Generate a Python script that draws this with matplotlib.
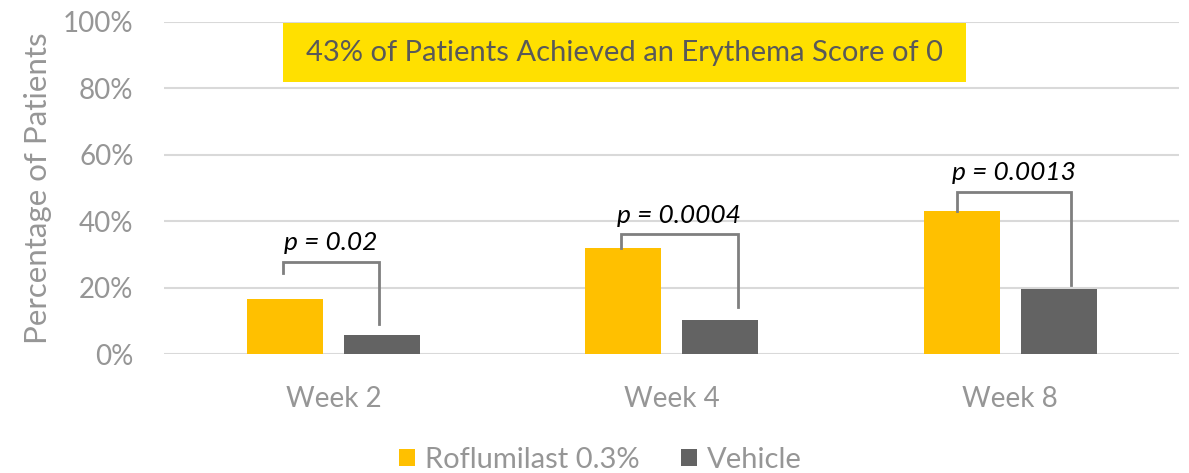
import matplotlib
matplotlib.use('Agg')
import matplotlib.pyplot as plt
from matplotlib.patches import Rectangle
import numpy as np
from matplotlib.ticker import PercentFormatter

plt.rcParams['font.family'] = ['Lato', 'DejaVu Sans']

# данные
weeks = ['Week 2', 'Week 4', 'Week 8']
roflumilast = [16.5, 32.1, 43.2]
vehicle = [5.8, 10.2, 19.6]
p_values = ['p = 0.02', 'p = 0.0004', 'p = 0.0013']
bracket_top = [27.8, 36.1, 48.9]
bracket_left_bottom = [24.5, 32.1, 43.2]
bracket_right_bottom = [9.1, 14.2, 20.8]
bracket_left_x = [-0.15, -0.15, -0.157]
bracket_right_x = [0.136, 0.195, 0.18]

GRID = '#D9D9D9'
TICK = '#969696'
YELLOW = '#FFC000'
GREY = '#636363'

fig = plt.figure(figsize=(11.89, 4.73), dpi=100)
ax = fig.add_axes([0.138, 0.251, 0.854, 0.703])

x = np.arange(len(weeks))
width = 0.225
ax.bar(x - 0.143, roflumilast, width, color=YELLOW, label='Roflumilast 0.3%', zorder=3)
ax.bar(x + 0.143, vehicle, width, color=GREY, label='Vehicle', zorder=3)

# скобки с p-значениями
for i in range(len(weeks)):
    xl = x[i] + bracket_left_x[i]
    xr = x[i] + bracket_right_x[i]
    ax.plot([xl, xl, xr, xr],
            [bracket_left_bottom[i], bracket_top[i], bracket_top[i], bracket_right_bottom[i]],
            color='#7F7F7F', lw=2, zorder=4, solid_joinstyle='miter')
    ax.text((xl + xr) / 2, bracket_top[i] + 3.5, p_values[i], ha='center', va='baseline',
            fontsize=19, style='italic', color='black')

ax.set_xlim(-0.5, 2.5)
ax.set_ylim(0, 100)
ax.set_yticks(np.arange(0, 101, 20))
ax.yaxis.set_major_formatter(PercentFormatter(decimals=0))
ax.set_xticks(x)
ax.set_xticklabels(weeks)
ax.tick_params(axis='y', length=0, pad=22, labelsize=20, labelcolor=TICK)
ax.tick_params(axis='x', length=0, pad=23, labelsize=20, labelcolor=TICK)
ax.grid(axis='y', color=GRID, lw=1.5, zorder=0)
for s in ax.spines.values():
    s.set_visible(False)

ax.set_ylabel('Percentage of Patients', fontsize=22.5, color=TICK)
ax.yaxis.set_label_coords(-0.11, 0.5)

# жёлтая плашка с заголовком
ax.add_patch(Rectangle((0.1174, 0.819), 0.6726, 0.176, transform=ax.transAxes,
                       facecolor='#FFE000', edgecolor='none', zorder=5, clip_on=False))
ax.text(0.4537, 0.905, '43% of Patients Achieved an Erythema Score of 0',
        transform=ax.transAxes, ha='center', va='center', fontsize=21, color='#595959',
        zorder=6)

fig.legend(loc='center', bbox_to_anchor=(0.505, 0.028), ncol=2, frameon=False,
           fontsize=21, labelcolor=TICK, handlelength=0.55, handleheight=0.55,
           handletextpad=0.35, columnspacing=1.4)

fig.savefig('out.png', dpi=100)
